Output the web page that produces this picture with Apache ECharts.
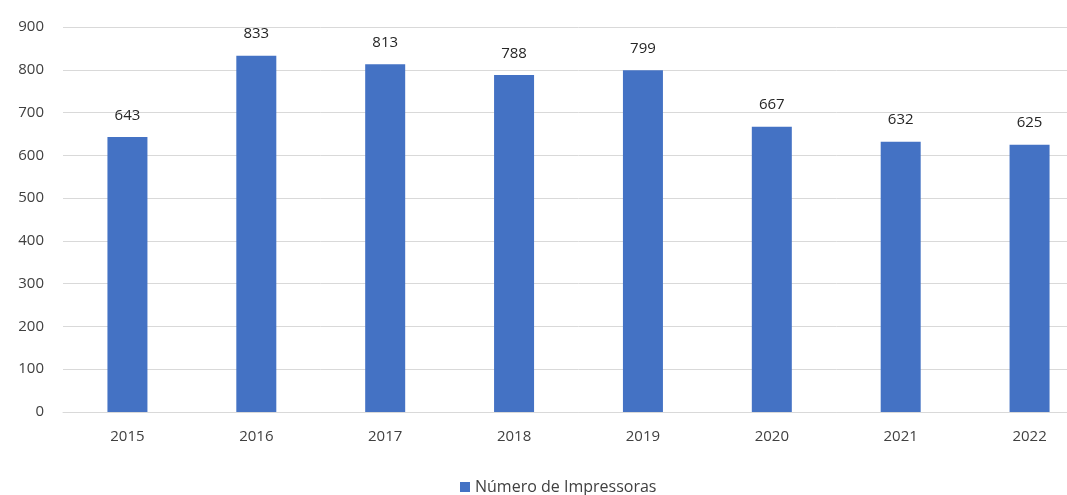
<!DOCTYPE html>
<html>
<head>
<meta charset="utf-8">
<script src="https://cdn.jsdelivr.net/npm/echarts@6/dist/echarts.min.js"></script>
<style>html,body{margin:0;padding:0;background:#fff;overflow:hidden;width:1067px;height:495px}#c{width:1095px;height:495px}</style>
</head>
<body>
<div id="c"></div>
<script>
const categories = ['2015','2016','2017','2018','2019','2020','2021','2022'];
const values = [643, 833, 813, 788, 799, 667, 632, 625];
const seriesName = 'Número de Impressoras';
const yTicks = { min: 0, max: 900, interval: 100 };

const chart = echarts.init(document.getElementById('c'), null, { renderer: 'canvas' });
const fontFamily = '"Open Sans", "Noto Sans", sans-serif';
chart.setOption({
  animation: false,
  backgroundColor: '#ffffff',
  grid: { left: 63, top: 27, right: 1, height: 385 },
  legend: {
    data: [seriesName],
    left: 455,
    top: 474,
    itemWidth: 10,
    itemHeight: 10,
    itemGap: 6,
    icon: 'rect',
    textStyle: { color: '#404040', fontSize: 16, fontFamily: fontFamily }
  },
  xAxis: {
    type: 'category',
    data: categories,
    axisLine: { show: true, lineStyle: { color: '#d9d9d9', width: 1 } },
    axisTick: { show: false },
    axisLabel: { color: '#404040', fontSize: 15, fontFamily: fontFamily, margin: 17 }
  },
  yAxis: {
    type: 'value',
    min: yTicks.min,
    max: yTicks.max,
    interval: yTicks.interval,
    axisLine: { show: false },
    axisTick: { show: false },
    splitLine: { lineStyle: { color: '#d9d9d9', width: 1 } },
    axisLabel: { color: '#404040', fontSize: 15, fontFamily: fontFamily, margin: 19 }
  },
  series: [{
    name: seriesName,
    type: 'bar',
    data: values,
    barWidth: 40,
    itemStyle: { color: '#4472C4' },
    label: {
      show: true,
      position: 'top',
      distance: 14,
      color: '#262626',
      fontSize: 15,
      fontFamily: fontFamily
    }
  }]
});
</script>
</body>
</html>
